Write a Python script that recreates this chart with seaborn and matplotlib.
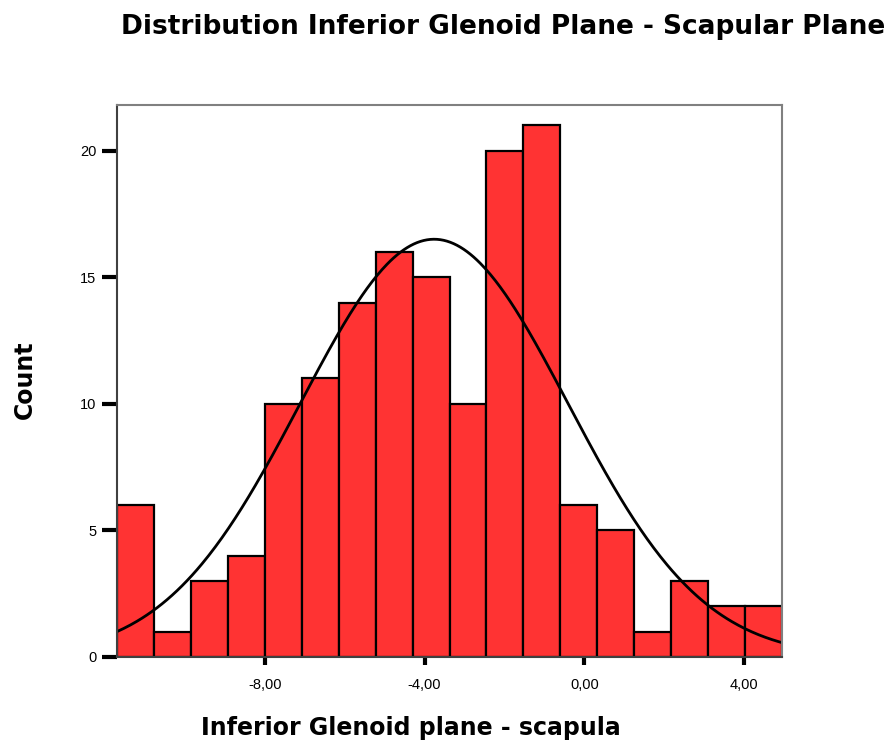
import matplotlib
matplotlib.use("Agg")
import matplotlib.pyplot as plt
import numpy as np
import pandas as pd
import seaborn as sns

# Histogram counts (18 bins)
bin_start = -11.70
bin_width = 0.925
counts = [6, 1, 3, 4, 10, 11, 14, 16, 15, 10, 20, 21, 6, 5, 1, 3, 2, 2]
# fitted normal curve parameters
mean_val = -3.76
sd_val = 3.355
x_ticks = [-8, -4, 0, 4]
x_tick_labels = ["-8,00", "-4,00", "0,00", "4,00"]
y_ticks = [0, 5, 10, 15, 20]

edges = bin_start + bin_width * np.arange(len(counts) + 1)
centers = (edges[:-1] + edges[1:]) / 2
df = pd.DataFrame({"value": centers, "count": counts})

sns.set_style("white")
plt.rcParams['font.family'] = ['Liberation Sans', 'DejaVu Sans']
plt.rcParams['text.color'] = 'black'
plt.rcParams['xtick.color'] = 'black'
plt.rcParams['ytick.color'] = 'black'

fig = plt.figure(figsize=(8.96, 7.44), dpi=100)
ax = fig.add_axes([117 / 896, 1 - 657 / 744, (782 - 117) / 896, (657 - 105) / 744])

sns.histplot(data=df, x="value", weights="count", bins=list(edges), ax=ax,
             color="#ff3333", alpha=1, edgecolor="black", linewidth=1.6)

# normal curve scaled to counts
n = sum(counts)
xs = np.linspace(edges[0], edges[-1], 400)
ys = n * bin_width / (sd_val * np.sqrt(2 * np.pi)) * np.exp(-0.5 * ((xs - mean_val) / sd_val) ** 2)
ax.plot(xs, ys, color="black", linewidth=2)

ax.set_xlim(edges[0], edges[-1])
ax.set_ylim(0, 21.8)
ax.set_xticks(x_ticks)
ax.set_xticklabels(x_tick_labels, fontsize=10.5)
ax.set_yticks(y_ticks)
ax.set_yticklabels([str(v) for v in y_ticks], fontsize=10.5)
ax.tick_params(axis="x", direction="out", length=6, width=3, bottom=True, pad=9)
ax.tick_params(axis="y", direction="out", length=11, width=3, left=True, pad=4)

for side in ["top", "right"]:
    ax.spines[side].set_color("#808080")
    ax.spines[side].set_linewidth(1.5)
for side in ["left", "bottom"]:
    ax.spines[side].set_color("#404040")
    ax.spines[side].set_linewidth(1.5)

ax.set_xlabel("")
ax.set_ylabel("")
fig.text(411 / 896, 1 - 728 / 744, "Inferior Glenoid plane - scapula",
         ha="center", va="center", fontsize=17, fontweight="bold", family="DejaVu Sans")
fig.text(25 / 896, 1 - 380 / 744, "Count", rotation=90,
         ha="center", va="center", fontsize=17, fontweight="bold", family="DejaVu Sans")
fig.text(503 / 896, 1 - 27 / 744, "Distribution Inferior Glenoid Plane - Scapular Plane",
         ha="center", va="center", fontsize=19, fontweight="bold", family="DejaVu Sans")

fig.savefig("out.png", dpi=100)
